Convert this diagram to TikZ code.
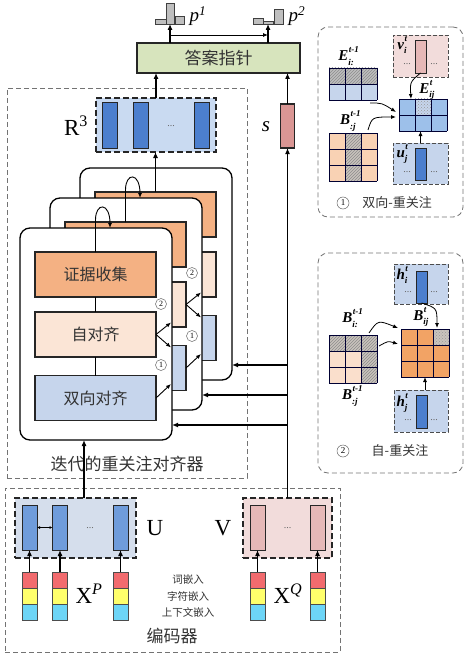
\documentclass[tikz,border=0pt]{standalone}
\usepackage{fontspec}
\usepackage{amsmath}
\setmainfont{Liberation Serif}
\newfontfamily\cjk{Noto Sans CJK SC}
\usetikzlibrary{arrows.meta,patterns}
\definecolor{cOrange}{HTML}{F4B183}
\definecolor{cPeach}{HTML}{FBE5D6}
\definecolor{cLblue}{HTML}{C6D5EC}
\definecolor{cRfill}{HTML}{C9DAF1}
\definecolor{cRbar}{HTML}{4C7FCE}
\definecolor{cAns}{HTML}{D7E4BD}
\definecolor{cS}{HTML}{DA9694}
\definecolor{cUfill}{HTML}{D5DEEC}
\definecolor{cUbar}{HTML}{6F9CDB}
\definecolor{cVfill}{HTML}{F2DCDB}
\definecolor{cVbar}{HTML}{E6B8B7}
\definecolor{cEred}{HTML}{F26B6E}
\definecolor{cEyel}{HTML}{FFFF6B}
\definecolor{cEcyan}{HTML}{6DD5F7}
\definecolor{cHist}{HTML}{BFBFBF}
\definecolor{cGridBlue}{HTML}{9DC0EA}
\definecolor{cGridOr}{HTML}{F2A365}
\definecolor{cLightOr}{HTML}{F9D2B4}
\definecolor{cHatch}{HTML}{C9C3BD}
\definecolor{cTxt}{HTML}{333333}
\newcommand\fs[1]{\fontsize{#1}{#1}\selectfont}
\newcommand\mylbl[3]{\textbf{\textit{#1}}\rlap{\kern0.5pt\raisebox{0.55em}{\fs{9}\textbf{\textit{#3}}}}\raisebox{-0.3em}{\fs{9}\textbf{\textit{#2}}}}
\newcommand\mygridcells[5]{%
  \foreach \ci in {0,...,#3}{\draw[gridl] ({#1+\ci*#5},#2) -- ({#1+\ci*#5},{#2+#4*#5});}
  \foreach \ri in {0,...,#4}{\draw[gridl] (#1,{#2+\ri*#5}) -- ({#1+#3*#5},{#2+\ri*#5});}}
\begin{document}
\begin{tikzpicture}[x=1pt,y=-1pt,
 box/.style={draw=black!85,line width=1.1pt,inner sep=0pt,outer sep=0pt},
 card/.style={draw=black,line width=1.3pt,fill=white,rounded corners=10pt,minimum width=152pt,minimum height=212pt,inner sep=0pt,outer sep=0pt},
 inbox/.style={box,minimum width=121pt,minimum height=45pt,font=\cjk\fs{16},text=cTxt},
 dbox/.style={draw=black!55,dash pattern=on 5pt off 3pt,line width=0.8pt,inner sep=0pt,outer sep=0pt},
 tbox/.style={draw=black!85,line width=1.6pt,dash pattern=on 6pt off 3pt,inner sep=0pt,outer sep=0pt},
 pbox/.style={draw=black!70,line width=0.9pt,dash pattern=on 4pt off 2pt,inner sep=0pt,outer sep=0pt},
 bar/.style={box,line width=1pt,minimum width=15pt,minimum height=45pt},
 sbar/.style={box,line width=0.9pt,minimum width=11pt},
 emb/.style={draw=black!70,line width=0.6pt,minimum width=15pt,minimum height=16pt,inner sep=0pt,outer sep=0pt},
 arr/.style={-{Latex[length=6pt,width=5pt]},line width=1.1pt},
 sarr/.style={-{Latex[length=5pt,width=4pt]},line width=0.9pt},
 circ/.style={circle,draw=black!60,line width=0.5pt,fill=white,inner sep=0pt,minimum size=11pt,font=\fs{8}},
 hbar/.style={draw=black!75,line width=0.7pt,fill=cHist,inner sep=0pt,outer sep=0pt},
 gridl/.style={draw=black!80!blue,line width=0.9pt},
 dots/.style={font=\fs{10},text=black!60,inner sep=0pt},
 mlbl/.style={font=\fs{15},inner sep=0pt},
]
\useasboundingbox (0,0) rectangle (470,658);

% ---------- histograms and answer pointer ----------
\node[hbar,minimum width=11pt,minimum height=5pt] (p1a) at (160.5,21.5) {};
\node[hbar,minimum width=8pt,minimum height=21pt] (p1m) at (170,13.5) {};
\node[hbar,minimum width=9pt,minimum height=8pt] (p1c) at (179.5,20) {};
\node[font=\fs{19},inner sep=0pt] (p1l) at (198,16) {\textit{p}\textsuperscript{\textit{1}}};
\node[hbar,minimum width=10pt,minimum height=6pt] (p2a) at (258,21) {};
\node[hbar,minimum width=10pt,minimum height=3pt] (p2m) at (268,22.5) {};
\node[hbar,minimum width=9pt,minimum height=15pt] (p2c) at (278.5,16.5) {};
\node[font=\fs{19},inner sep=0pt] (p2l) at (297,16) {\textit{p}\textsuperscript{\textit{2}}};

\node[box,fill=cAns,minimum width=163pt,minimum height=30pt,font=\cjk\fs{17},text=cTxt] (ans) at (218.5,58) {答案指针};
\draw[arr] (ans.north -| p1m) -- (p1m.south);
\draw[arr] (ans.north -| p2m) -- (p2m.south);
\coordinate (hs) at (170,35);
\draw[sarr,line width=0.8pt] (hs) -- (hs -| p2m);

% ---------- iterative re-attention box ----------
\node[dbox,minimum width=240pt,minimum height=390pt] (iter) at (127,283) {};
\node[font=\cjk\fs{17},text=cTxt,inner sep=0pt] (iterl) at (127,464) {迭代的重关注对齐器};

% R3
\node[tbox,fill=cRfill,minimum width=120pt,minimum height=54pt] (R3) at (156,125) {};
\node[bar,fill=cRbar] (r1) at (110,125.5) {};
\node[bar,fill=cRbar] (r2) at (140.5,125.5) {};
\node[bar,fill=cRbar] (r3) at (201.5,125.5) {};
\node[dots] (rd) at (171,126) {...};
\node[font=\fs{23},inner sep=0pt] (R3l) at (76,126) {R\textsuperscript{3}};

% s
\node[box,fill=cS,minimum width=14pt,minimum height=44pt] (s) at (287.5,126) {};
\node[font=\fs{21},inner sep=0pt] (sl) at (266,127) {\textit{s}};
\draw[arr] (s.north) -- (s.north |- ans.south);
\draw[arr] (R3.north) -- (R3.north |- ans.south);

% ---------- card 2 (back) ----------
\node[card] (card2) at (156,274) {};
\node[inbox,fill=cOrange] (ev2) at (155.5,214.5) {};
\node[inbox,fill=cPeach] (sa2) at (155.5,274.5) {};
\node[inbox,fill=cLblue] (ba2) at (155.5,338) {};
\draw[line width=1pt] (ev2.south) -- (sa2.north);
\draw[line width=1pt] (sa2.south) -- (ba2.north);
\draw[arr] (ev2.north) -- (ev2.north |- R3.south);

% ---------- card 1 ----------
\node[card] (card1) at (126,304) {};
\node[inbox,fill=cOrange] (ev1) at (125.5,244.5) {};
\node[inbox,fill=cPeach] (sa1) at (125.5,304.5) {};
\node[inbox,fill=cLblue] (ba1) at (125.5,368) {};
\draw[line width=1pt] (ev1.south) -- (sa1.north);
\draw[line width=1pt] (sa1.south) -- (ba1.north);
\coordinate (lp1) at (140,198);
\draw[sarr] (ev1.north) -- (125.5,190) .. controls (125.5,172) and (140,172) .. (lp1);
\draw[sarr] (ba1.east) -- ++(15,-14);
\draw[sarr] (sa1.east) -- ++(15,-12);
\draw[sarr] (sa1.east) -- ++(15,13);
\node[circ] (c12) at (192,273) {2};
\node[circ] (c11) at (192,336) {1};

% ---------- card 0 (front) ----------
\node[card] (card0) at (96,334) {};
\node[inbox,fill=cOrange] (ev0) at (95.5,274.5) {证据收集};
\node[inbox,fill=cPeach] (sa0) at (95.5,334.5) {自对齐};
\node[inbox,fill=cLblue] (ba0) at (95.5,398) {双向对齐};
\draw[line width=1pt] (ev0.south) -- (sa0.north);
\draw[line width=1pt] (sa0.south) -- (ba0.north);
\coordinate (lp0) at (110,228);
\draw[sarr] (ev0.north) -- (95.5,220) .. controls (95.5,202) and (110,202) .. (lp0);
\draw[sarr] (ba0.east) -- ++(15,-14);
\draw[sarr] (sa0.east) -- ++(15,-12);
\draw[sarr] (sa0.east) -- ++(15,13);
\node[circ] (c02) at (161,304) {2};
\node[circ] (c01) at (161,365) {1};

% ---------- encoder ----------
\node[dbox,minimum width=335pt,minimum height=164pt] (enc) at (172.5,570) {};
\node[font=\cjk\fs{17},text=cTxt,inner sep=0pt] (encl) at (172,636) {编码器};

\node[tbox,fill=cUfill,minimum width=121pt,minimum height=60pt] (U) at (75.5,528) {};
\node[bar,fill=cUbar] (u1) at (29.5,527.5) {};
\node[bar,fill=cUbar] (u2) at (60,527.5) {};
\node[bar,fill=cUbar] (u3) at (120.5,527.5) {};
\node[dots] (ud) at (90,528) {...};
\draw[{Latex[length=3pt,width=3pt]}-{Latex[length=3pt,width=3pt]},line width=0.8pt] (u1.east) -- (u2.west);
\node[font=\fs{23},inner sep=0pt] (Ul) at (155,528) {U};

\node[tbox,fill=cVfill,minimum width=89pt,minimum height=60pt] (V) at (287.5,528) {};
\node[bar,fill=cVbar] (v1) at (257.5,527.5) {};
\node[bar,fill=cVbar] (v2) at (317.5,527.5) {};
\node[dots] (vd) at (287.5,528) {...};
\node[font=\fs{23},inner sep=0pt] (Vl) at (223,528) {V};

% encoder outputs
\coordinate (uo) at (84,498);
\draw[arr] (uo) -- (uo |- card0.south);
\draw[arr,line width=1.4pt] (V.north) -- (s.south);
\coordinate (j2) at (287.5,365);
\coordinate (j1) at (287.5,395);
\coordinate (j0) at (287.5,425);
\draw[arr,line width=1.3pt] (j2) -- (j2 -| card2.east);
\draw[arr,line width=1.3pt] (j1) -- (j1 -| card1.east);
\draw[arr,line width=1.3pt] (j0) -- (j0 -| card0.east);

% embeddings
\foreach \n/\x/\tgt in {a/29.5/u1,b/60/u2,c/120.5/u3,d/257.5/v1,e/317.5/v2}{
  \node[emb,fill=cEred] (er\n) at (\x,580) {};
  \node[emb,fill=cEyel] (ey\n) at (\x,596) {};
  \node[emb,fill=cEcyan] (ec\n) at (\x,612) {};
  \draw[arr] (er\n.north) -- (\tgt.south);
}
\node[font=\fs{23},inner sep=0pt] (XP) at (89,594) {X\textsuperscript{\textit{P}}};
\node[font=\fs{23},inner sep=0pt] (XQ) at (288,594) {X\textsuperscript{\textit{Q}}};
\node[font=\cjk\fs{10.5},text=cTxt,inner sep=0pt] (t1) at (188,579) {词嵌入};
\node[font=\cjk\fs{10.5},text=cTxt,inner sep=0pt] (t2) at (188,596) {字符嵌入};
\node[font=\cjk\fs{10.5},text=cTxt,inner sep=0pt] (t3) at (188,612) {上下文嵌入};

% ---------- panel 1 ----------
\node[dbox,rounded corners=10pt,minimum width=145pt,minimum height=190pt] (pan1) at (390.5,122) {};
% E grid
\fill[cLblue] (329,84) rectangle (377,100);
\fill[cHist] (329,68) rectangle (377,84);
\fill[pattern=north east lines,pattern color=black!45] (329,68) rectangle (377,84);
\mygridcells{329}{68}{3}{2}{16}
\node[mlbl] (El) at (346,56) {\mylbl{E}{i:}{t-1}};
% B grid
\fill[cLightOr] (329,133) rectangle (377,181);
\fill[cHatch] (345,133) rectangle (361,181);
\fill[pattern=north east lines,pattern color=black!45] (345,133) rectangle (361,181);
\mygridcells{329}{133}{3}{3}{16}
\node[mlbl] (Bl) at (348,121) {\mylbl{B}{:j}{t-1}};
% result
\fill[cGridBlue] (399,99) rectangle (447,131);
\fill[cLblue] (415,99) rectangle (431,115);
\fill[pattern=crosshatch dots,pattern color=black!40] (415,99) rectangle (431,115);
\mygridcells{399}{99}{3}{2}{16}
\node[mlbl] (Eijl) at (427,90) {\mylbl{E}{ij}{t}};
% v box
\node[pbox,fill=cVfill,minimum width=55pt,minimum height=42pt] (vb) at (420.5,56) {};
\node[sbar,fill=cVbar,minimum height=33pt] (vbar) at (420.5,56.5) {};
\node[mlbl] (vl) at (402,45) {\mylbl{v}{i}{t}};
\node[dots] (vd1) at (407,64) {...};
\node[dots] (vd2) at (434,64) {...};
% u box
\node[pbox,fill=cLblue,minimum width=55pt,minimum height=41pt] (ub) at (420.5,163.5) {};
\node[sbar,fill=cRbar,minimum height=32pt] (ubar) at (420.5,164) {};
\node[mlbl] (ul) at (402,154) {\mylbl{u}{j}{t}};
\node[dots] (ud1) at (407,172) {...};
\node[dots] (ud2) at (434,172) {...};
% arrows
\coordinate (e1s) at (370,103); \coordinate (e1t) at (396,112);
\coordinate (b1s) at (368,130); \coordinate (b1t) at (396,117);
\draw[sarr,line width=0.8pt] (e1s) .. controls (382,103) .. (e1t);
\draw[sarr,line width=0.8pt] (b1s) .. controls (372,117) .. (b1t);
\draw[sarr,line width=0.8pt] (vbar.south) .. controls (410,82) .. (411,99);
\draw[sarr,line width=0.8pt] (ub.north) -- (420.5,131);
\node[circ,minimum size=12pt,font=\fs{9}] (n1) at (343,203) {1};
\node[font=\cjk\fs{13},text=cTxt,inner sep=0pt] (pan1l) at (397,203) {双向-重关注};

% ---------- panel 2 ----------
\node[dbox,rounded corners=10pt,minimum width=145pt,minimum height=220pt] (pan2) at (390.5,363) {};
% left grid
\fill[cPeach!70!cLightOr] (329,335) rectangle (377,383);
\fill[cHatch] (329,335) rectangle (377,351);
\fill[cHatch] (361,335) rectangle (377,383);
\fill[pattern=north east lines,pattern color=black!45] (329,335) rectangle (377,351);
\fill[pattern=north east lines,pattern color=black!45] (361,351) rectangle (377,383);
\mygridcells{329}{335}{3}{3}{16}
\node[mlbl] (Bil) at (350,318) {\mylbl{B}{i:}{t-1}};
\node[mlbl] (Bjl) at (350,396) {\mylbl{B}{:j}{t-1}};
% result grid
\fill[cGridOr] (401,329) rectangle (449,377);
\fill[cHatch] (433,329) rectangle (449,345);
\fill[pattern=crosshatch dots,pattern color=black!40] (433,329) rectangle (449,345);
\mygridcells{401}{329}{3}{3}{16}
\node[mlbl] (Bijl) at (421,317) {\mylbl{B}{ij}{t}};
% h_i box
\node[pbox,fill=cLblue,minimum width=54pt,minimum height=40pt] (hib) at (421,284) {};
\node[sbar,fill=cRbar,minimum height=32pt] (hibar) at (421.5,287) {};
\node[mlbl] (hil) at (402,275) {\mylbl{h}{i}{t}};
\node[dots] (hd1) at (408,292) {...};
\node[dots] (hd2) at (434,292) {...};
% h_j box
\node[pbox,fill=cLblue,minimum width=54pt,minimum height=42pt] (hjb) at (421,411) {};
\node[sbar,fill=cRbar,minimum height=33pt] (hjbar) at (421.5,411.5) {};
\node[mlbl] (hjl) at (402,403) {\mylbl{h}{j}{t}};
\node[dots] (hjd1) at (408,420) {...};
\node[dots] (hjd2) at (434,420) {...};
% arrows
\coordinate (b2s) at (369,333); \coordinate (b2t) at (398,328);
\coordinate (b3s) at (379,346); \coordinate (b3t) at (398,344);
\draw[sarr,line width=0.8pt] (b2s) .. controls (378,320) .. (b2t);
\draw[sarr,line width=0.8pt] (b3s) .. controls (388,341) .. (b3t);
\draw[sarr,line width=0.8pt] (hibar.south) .. controls (437,308) .. (437,328);
\draw[sarr,line width=0.8pt] (hjb.north -| 425,0) -- (425,377);
\node[circ,minimum size=12pt,font=\fs{9}] (n2) at (343,451) {2};
\node[font=\cjk\fs{13},text=cTxt,inner sep=0pt] (pan2l) at (400,451) {自-重关注};
\end{tikzpicture}
\end{document}
